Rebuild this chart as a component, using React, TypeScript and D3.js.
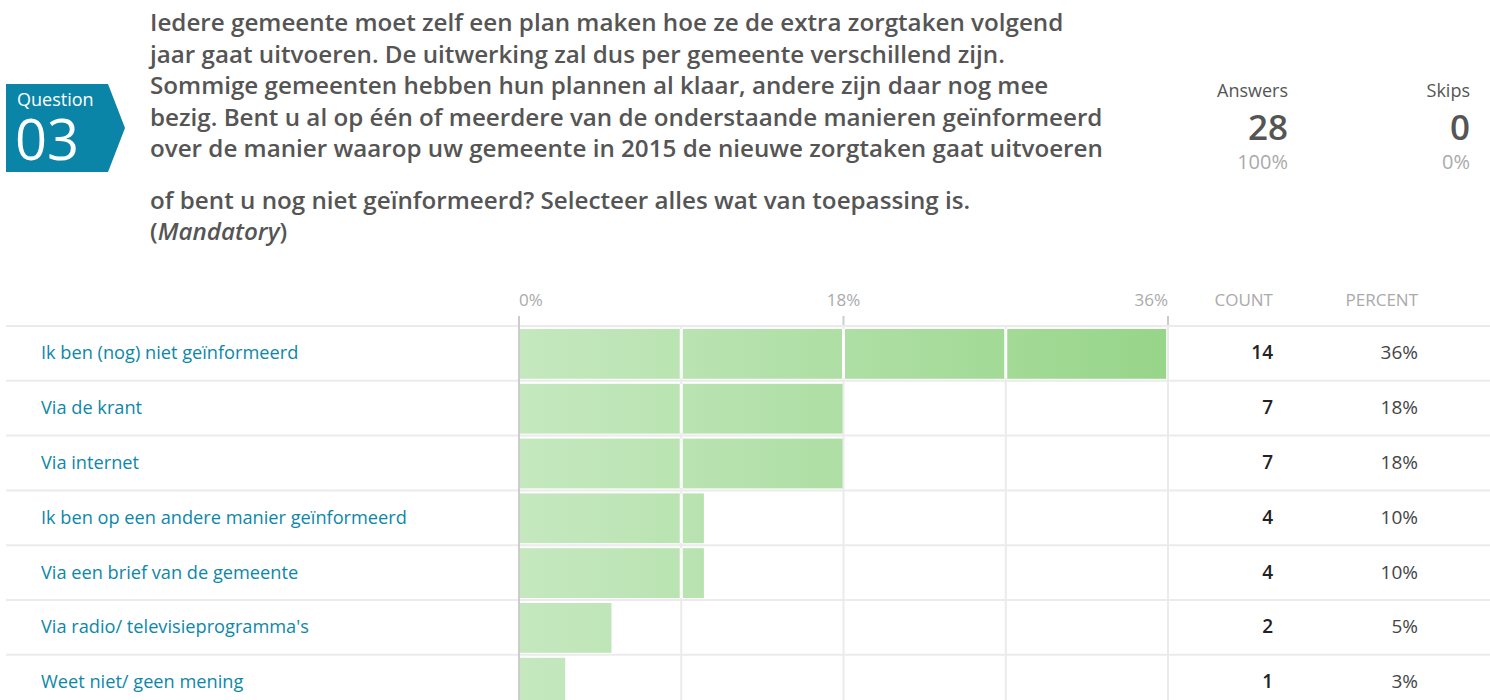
import React from "react";
import * as d3 from "d3";

const categories = [
  "Ik ben (nog) niet geïnformeerd",
  "Via de krant",
  "Via internet",
  "Ik ben op een andere manier geïnformeerd",
  "Via een brief van de gemeente",
  "Via radio/ televisieprogramma's",
  "Weet niet/ geen mening",
];
const counts = [14, 7, 7, 4, 4, 2, 1];
const percentLabels = ["36%", "18%", "18%", "10%", "10%", "5%", "3%"];
const tickValues = [0, 0.18, 0.36];
const gridValues = [0, 0.09, 0.18, 0.27, 0.36];
const titleLines = [
  "Iedere gemeente moet zelf een plan maken hoe ze de extra zorgtaken volgend",
  "jaar gaat uitvoeren. De uitwerking zal dus per gemeente verschillend zijn.",
  "Sommige gemeenten hebben hun plannen al klaar, andere zijn daar nog mee",
  "bezig. Bent u al op één of meerdere van de onderstaande manieren geïnformeerd",
  "over de manier waarop uw gemeente in 2015 de nieuwe zorgtaken gaat uitvoeren",
];
const titleLine2 = "of bent u nog niet geïnformeerd? Selecteer alles wat van toepassing is.";
const answers = { label: "Answers", value: "28", pct: "100%" };
const skips = { label: "Skips", value: "0", pct: "0%" };

const FONT = "'Open Sans', 'Noto Sans', sans-serif";

export default function App() {
  const total = d3.sum(counts);
  const x = d3.scaleLinear().domain([0, 0.36]).range([519, 1168]);
  const rowTop = 326;
  const rowH = 54.8;
  const y = d3
    .scaleBand<number>()
    .domain(d3.range(categories.length))
    .range([rowTop, rowTop + rowH * categories.length])
    .padding(0);

  return (
    <svg
      width={1490}
      height={700}
      style={{ position: "absolute", left: 0, top: 0, fontFamily: FONT }}
    >
      <defs>
        <linearGradient id="barGrad" gradientUnits="userSpaceOnUse" x1={x(0)} x2={x(0.36)} y1={0} y2={0}>
          <stop offset="0%" stopColor="#c5e8bf" />
          <stop offset="100%" stopColor="#97d589" />
        </linearGradient>
      </defs>
      <rect x={0} y={0} width={1490} height={700} fill="#fff" />

      {/* Question badge */}
      <path d="M6,84 L108,84 L125,128 L108,172 L6,172 Z" fill="#0a85a8" />
      <text x={17} y={106} fill="#fff" fontSize={18}>Question</text>
      <text x={15} y={160} fill="#fff" fontSize={56}>03</text>

      {/* Title */}
      {titleLines.map((t, i) => (
        <text key={i} x={150} y={31 + i * 31.5} fill="#555" fontSize={24.2} fontWeight={600}>
          {t}
        </text>
      ))}
      <text x={150} y={209} fill="#555" fontSize={24.2} fontWeight={600}>{titleLine2}</text>
      <text x={150} y={240} fill="#555" fontSize={24.2} fontWeight={600}>
        (<tspan fontStyle="italic">Mandatory</tspan>)
      </text>

      {/* Answers / Skips */}
      {[
        { d: answers, xr: 1288 },
        { d: skips, xr: 1470 },
      ].map((o, i) => (
        <g key={i} textAnchor="end">
          <text x={o.xr} y={97} fill="#555" fontSize={18}>{o.d.label}</text>
          <text x={o.xr} y={140} fill="#555" fontSize={35} fontWeight={600}>{o.d.value}</text>
          <text x={o.xr} y={169} fill="#aaa" fontSize={20}>{o.d.pct}</text>
        </g>
      ))}

      {/* Column headers */}
      {tickValues.map((v, i) => (
        <g key={i}>
          <text
            x={x(v)}
            y={306}
            fill="#aaa"
            fontSize={17}
            textAnchor={i === 0 ? "start" : i === tickValues.length - 1 ? "end" : "middle"}
          >
            {d3.format(".0%")(v)}
          </text>
          <line x1={x(v)} x2={x(v)} y1={316} y2={326} stroke="#ccc" strokeWidth={2} />
        </g>
      ))}
      <text x={1273} y={306} fill="#aaa" fontSize={17} textAnchor="end">COUNT</text>
      <text x={1418} y={306} fill="#aaa" fontSize={17} textAnchor="end">PERCENT</text>

      {/* Gridlines */}
      {gridValues.slice(1).map((v, i) => (
        <line key={i} x1={x(v)} x2={x(v)} y1={326} y2={700} stroke="#ebebeb" strokeWidth={2} />
      ))}

      {/* Row separators */}
      {d3.range(categories.length + 1).map((i) => (
        <line key={i} x1={6} x2={1490} y1={rowTop + i * rowH} y2={rowTop + i * rowH} stroke="#ebebeb" strokeWidth={2} />
      ))}

      {/* Bars */}
      {counts.map((c, i) => {
        const top = (y(i) as number) + 3;
        const h = y.bandwidth() - 5;
        const x1 = x(c / total);
        return (
          <g key={i}>
            <rect x={x(0) + 1} y={top} width={x1 - x(0) - 1} height={h} fill="url(#barGrad)" />
            {gridValues.slice(1).filter((v) => x(v) < x1).map((v, j) => (
              <line key={j} x1={x(v)} x2={x(v)} y1={top} y2={top + h} stroke="#fff" strokeWidth={3} />
            ))}
          </g>
        );
      })}

      {/* Zero line */}
      <line x1={x(0)} x2={x(0)} y1={316} y2={700} stroke="#ccc" strokeWidth={2} />

      {/* Labels and values */}
      {categories.map((c, i) => {
        const cy = (y(i) as number) + rowH / 2 + 6;
        return (
          <g key={i}>
            <text x={41} y={cy} fill="#0d87a9" fontSize={18.2}>{c}</text>
            <text x={1273} y={cy} fill="#222" fontSize={19} fontWeight={600} textAnchor="end">{counts[i]}</text>
            <text x={1418} y={cy} fill="#444" fontSize={19} textAnchor="end">{percentLabels[i]}</text>
          </g>
        );
      })}
    </svg>
  );
}
